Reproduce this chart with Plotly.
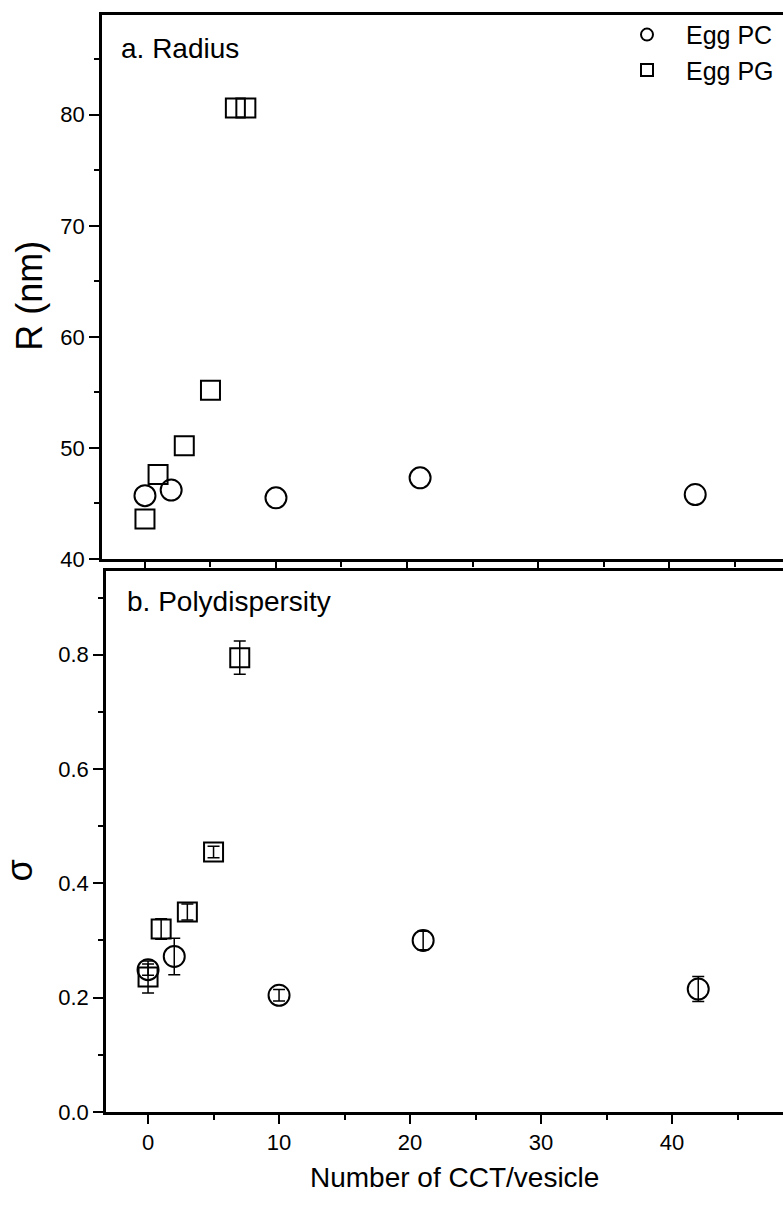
import plotly.graph_objects as go

# ---- data -------------------------------------------------------------
# a. vesicle radius R (nm) vs number of CCT per vesicle
n_pc = [0, 2, 10, 21, 42]
r_pc = [45.7, 46.2, 45.5, 47.3, 45.8]

n_pg_r = [0, 1, 3, 5, 6.9, 7.7]
r_pg = [43.6, 47.6, 50.2, 55.2, 80.6, 80.6]

# b. polydispersity sigma vs number of CCT per vesicle
sig_pc = [0.249, 0.272, 0.204, 0.300, 0.215]
sig_pc_err = [0.010, 0.032, 0.010, 0.016, 0.022]

n_pg = [0, 1, 3, 5, 7]
sig_pg = [0.236, 0.320, 0.350, 0.455, 0.795]
sig_pg_err = [0.028, 0.018, 0.014, 0.010, 0.029]

x_ticks = [0, 10, 20, 30, 40]

# ---- styling ----------------------------------------------------------
W, H = 783, 1208
FONT = "Arial, 'Liberation Sans', Helvetica, sans-serif"


def fx(p):
    return p / W


def fy(p):
    return 1 - p / H


circle = dict(symbol="circle-open", size=21, color="black",
              line=dict(width=2, color="black"))
square = dict(symbol="square-open", size=19, color="black",
              line=dict(width=2, color="black"))


def err(vals):
    return dict(type="data", array=vals, visible=True, color="black",
                thickness=1.5, width=6)


fig = go.Figure()

fig.add_trace(go.Scatter(x=n_pc, y=r_pc, mode="markers", marker=circle,
                         name="Egg PC", xaxis="x", yaxis="y"))
fig.add_trace(go.Scatter(x=n_pg_r, y=r_pg, mode="markers", marker=square,
                         name="Egg PG", xaxis="x", yaxis="y"))
fig.add_trace(go.Scatter(x=n_pc, y=sig_pc, error_y=err(sig_pc_err),
                         mode="markers", marker=circle, name="Egg PC",
                         showlegend=False, xaxis="x2", yaxis="y2"))
fig.add_trace(go.Scatter(x=n_pg, y=sig_pg, error_y=err(sig_pg_err),
                         mode="markers", marker=square, name="Egg PG",
                         showlegend=False, xaxis="x2", yaxis="y2"))

axis_common = dict(showgrid=False, zeroline=False, showline=True,
                   linecolor="black", linewidth=2.5, ticks="outside",
                   tickcolor="black", tickwidth=2,
                   tickfont=dict(family=FONT, size=22, color="black"))

fig.update_layout(
    width=W, height=H,
    margin=dict(l=0, r=0, t=0, b=0),
    paper_bgcolor="white", plot_bgcolor="white",
    font=dict(family=FONT, color="black"),
    xaxis=dict(axis_common, domain=[fx(102), 1], range=[-3.28, 48.7],
               anchor="y", tick0=0, dtick=10, ticklen=9,
               showticklabels=False, mirror=True,
               minor=dict(dtick=5, ticklen=5, tickwidth=2,
                          ticks="outside", tickcolor="black")),
    yaxis=dict(axis_common, domain=[fy(565), fy(15)], range=[40, 89],
               anchor="x", tick0=40, dtick=10, ticklen=10,
               minor=dict(dtick=5, ticklen=5, tickwidth=2,
                          ticks="outside", tickcolor="black")),
    xaxis2=dict(axis_common, domain=[fx(106), 1], range=[-3.21, 48.47],
                anchor="y2", tickvals=x_ticks, ticklen=9, mirror=True,
                minor=dict(dtick=5, ticklen=5, tickwidth=2,
                           ticks="outside", tickcolor="black")),
    yaxis2=dict(axis_common, domain=[fy(1124), fy(577)], range=[0, 0.947],
                anchor="x2", tick0=0, dtick=0.2, tickformat=".1f",
                ticklen=10,
                minor=dict(dtick=0.1, ticklen=5, tickwidth=2,
                           ticks="outside", tickcolor="black")),
    legend=dict(x=fx(608), y=fy(12), xanchor="left", yanchor="top",
                bgcolor="rgba(0,0,0,0)", itemsizing="constant",
                itemwidth=68, tracegroupgap=0,
                font=dict(family=FONT, size=25, color="black")),
    showlegend=True,
)

annotations = [
    dict(text="a. Radius", x=fx(119), y=fy(49), xanchor="left",
         yanchor="middle", font=dict(size=28)),
    dict(text="b. Polydispersity", x=fx(125), y=fy(608), xanchor="left",
         yanchor="middle", font=dict(size=28)),
    dict(text="R (nm)", x=fx(30), y=fy(299), textangle=-90,
         xanchor="center", yanchor="middle", font=dict(size=36)),
    dict(text="σ", x=fx(20), y=fy(880), textangle=-90,
         xanchor="center", yanchor="middle", font=dict(size=36)),
    dict(text="Number of CCT/vesicle", x=fx(454), y=fy(1190),
         xanchor="center", yanchor="middle", font=dict(size=28)),
]
for a in annotations:
    a.update(xref="paper", yref="paper", showarrow=False)
    a["font"].update(family=FONT, color="black")
fig.update_layout(annotations=annotations)

fig.write_html("out.html")
